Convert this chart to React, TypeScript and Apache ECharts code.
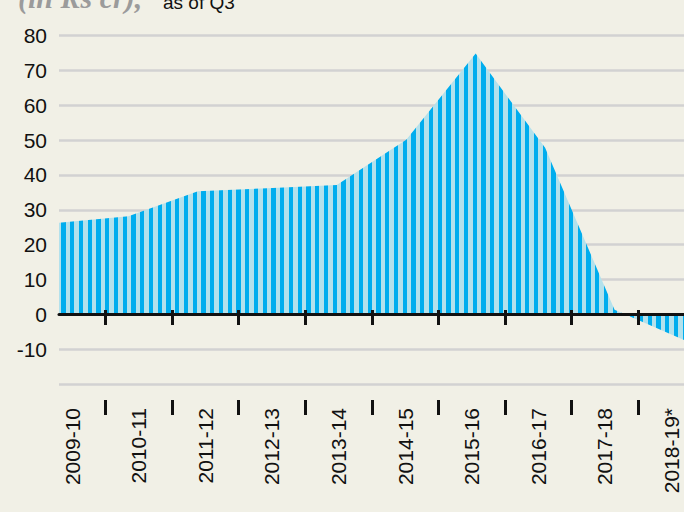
import React, { useEffect, useRef } from 'react';
import * as echarts from 'echarts';

// Fiscal-year labels on the bottom axis
const periods = ['2009-10', '2010-11', '2011-12', '2012-13', '2013-14', '2014-15', '2015-16', '2016-17', '2017-18', '2018-19*'];
// Data points (one per year), in Rs crore
const pointKeys = ['p2009', 'p2010', 'p2011', 'p2012', 'p2013', 'p2014', 'p2015', 'p2016', 'p2017', 'p2018'];
const values = [26.3, 28.1, 35.3, 36.2, 37.1, 50.1, 74.8, 47.8, 1.3, -7.4];
const yTicks = { min: -20, max: 80, step: 10 };

const BG = '#f1f0e6';
const DARK = '#00adee';
const LIGHT = '#b3e1ec';
const SANS = '"Liberation Sans Narrow", "Liberation Sans", Arial, sans-serif';

function makeStripes(): HTMLCanvasElement {
  const c = document.createElement('canvas');
  c.width = 35;
  c.height = 8;
  const ctx = c.getContext('2d')!;
  ctx.fillStyle = LIGHT;
  ctx.fillRect(0, 0, 35, 8);
  ctx.fillStyle = DARK;
  for (let i = 0; i < 4; i++) {
    const x0 = Math.round(i * 8.75);
    const x1 = Math.round(i * 8.75 + 4.4);
    ctx.fillRect(x0, 0, x1 - x0, 8);
  }
  return c;
}

export default function App() {
  const ref = useRef<HTMLDivElement>(null);
  useEffect(() => {
    document.body.style.margin = '0';
    document.body.style.background = BG;
    const chart = echarts.init(ref.current!, null, { renderer: 'svg' });
    const stripe = makeStripes();
    const option: any = {
      animation: false,
      backgroundColor: BG,
      grid: [
        { left: 59, right: 0, top: 35.5, height: 348.5, containLabel: false, outerBoundsMode: 'none' },
        { left: 39, right: -20.5, top: 35.5, height: 364.5, containLabel: false, outerBoundsMode: 'none' },
      ],
      xAxis: [
        {
          type: 'category',
          gridIndex: 0,
          data: pointKeys,
          boundaryGap: false,
          z: 10,
          axisLine: { show: true, onZero: true, lineStyle: { color: '#111', width: 3 } },
          axisTick: { show: false },
          axisLabel: { show: false },
          splitLine: { show: false },
        },
        {
          type: 'category',
          gridIndex: 1,
          data: periods,
          position: 'bottom',
          boundaryGap: true,
          axisLine: { show: false, onZero: false },
          axisTick: {
            show: true,
            length: 15,
            interval: (i: number) => i !== 0,
            lineStyle: { color: '#111', width: 3 },
          },
          axisLabel: {
            show: true,
            interval: 0,
            rotate: 90,
            margin: 8,
            fontSize: 21,
            fontFamily: SANS,
            color: '#111',
          },
          splitLine: { show: false },
        },
        {
          type: 'category',
          gridIndex: 1,
          data: periods,
          position: 'bottom',
          offset: -90,
          boundaryGap: true,
          z: 10,
          axisLine: { show: false, onZero: false },
          axisTick: {
            show: true,
            length: 15,
            interval: (i: number) => i !== 0,
            lineStyle: { color: '#111', width: 3 },
          },
          axisLabel: { show: false },
          splitLine: { show: false },
        },
      ],
      yAxis: [
        {
          type: 'value',
          gridIndex: 0,
          min: yTicks.min,
          max: yTicks.max,
          interval: yTicks.step,
          axisLine: { show: false },
          axisTick: { show: false },
          axisLabel: {
            fontSize: 21,
            fontFamily: SANS,
            color: '#111',
            margin: 12,
            formatter: (v: number) => (v === yTicks.min ? '' : String(v)),
          },
          splitLine: { show: true, lineStyle: { color: '#d2d2d2', width: 2.5 } },
        },
        {
          type: 'value',
          gridIndex: 1,
          min: yTicks.min,
          max: yTicks.max,
          interval: yTicks.step,
          show: false,
          splitLine: { show: false },
        },
      ],
      graphic: [
        {
          type: 'text',
          x: 18,
          y: -3,
          style: {
            text: '(in Rs cr),',
            fontFamily: '"Liberation Serif", serif',
            fontStyle: 'italic',
            fontWeight: 'bold',
            fontSize: 30,
            fill: '#9b9b9b',
            align: 'left',
            verticalAlign: 'middle',
          },
        },
        {
          type: 'text',
          x: 163,
          y: 2,
          style: {
            text: 'as of Q3',
            fontFamily: SANS,
            fontSize: 19,
            fill: '#111',
            align: 'left',
            verticalAlign: 'middle',
          },
        },
      ],
      series: [
        {
          type: 'line',
          xAxisIndex: 0,
          yAxisIndex: 0,
          data: values,
          showSymbol: false,
          symbol: 'none',
          lineStyle: { width: 0 },
          z: 2,
          areaStyle: {
            opacity: 1,
            color: { image: stripe, repeat: 'repeat', imageWidth: 35, imageHeight: 8, x: 59 },
          },
        },
      ],
    };
    chart.setOption(option);
    return () => chart.dispose();
  }, []);
  return (
    <div
      ref={ref}
      style={{ position: 'absolute', left: 0, top: 0, width: 684, height: 512, background: BG }}
    />
  );
}
